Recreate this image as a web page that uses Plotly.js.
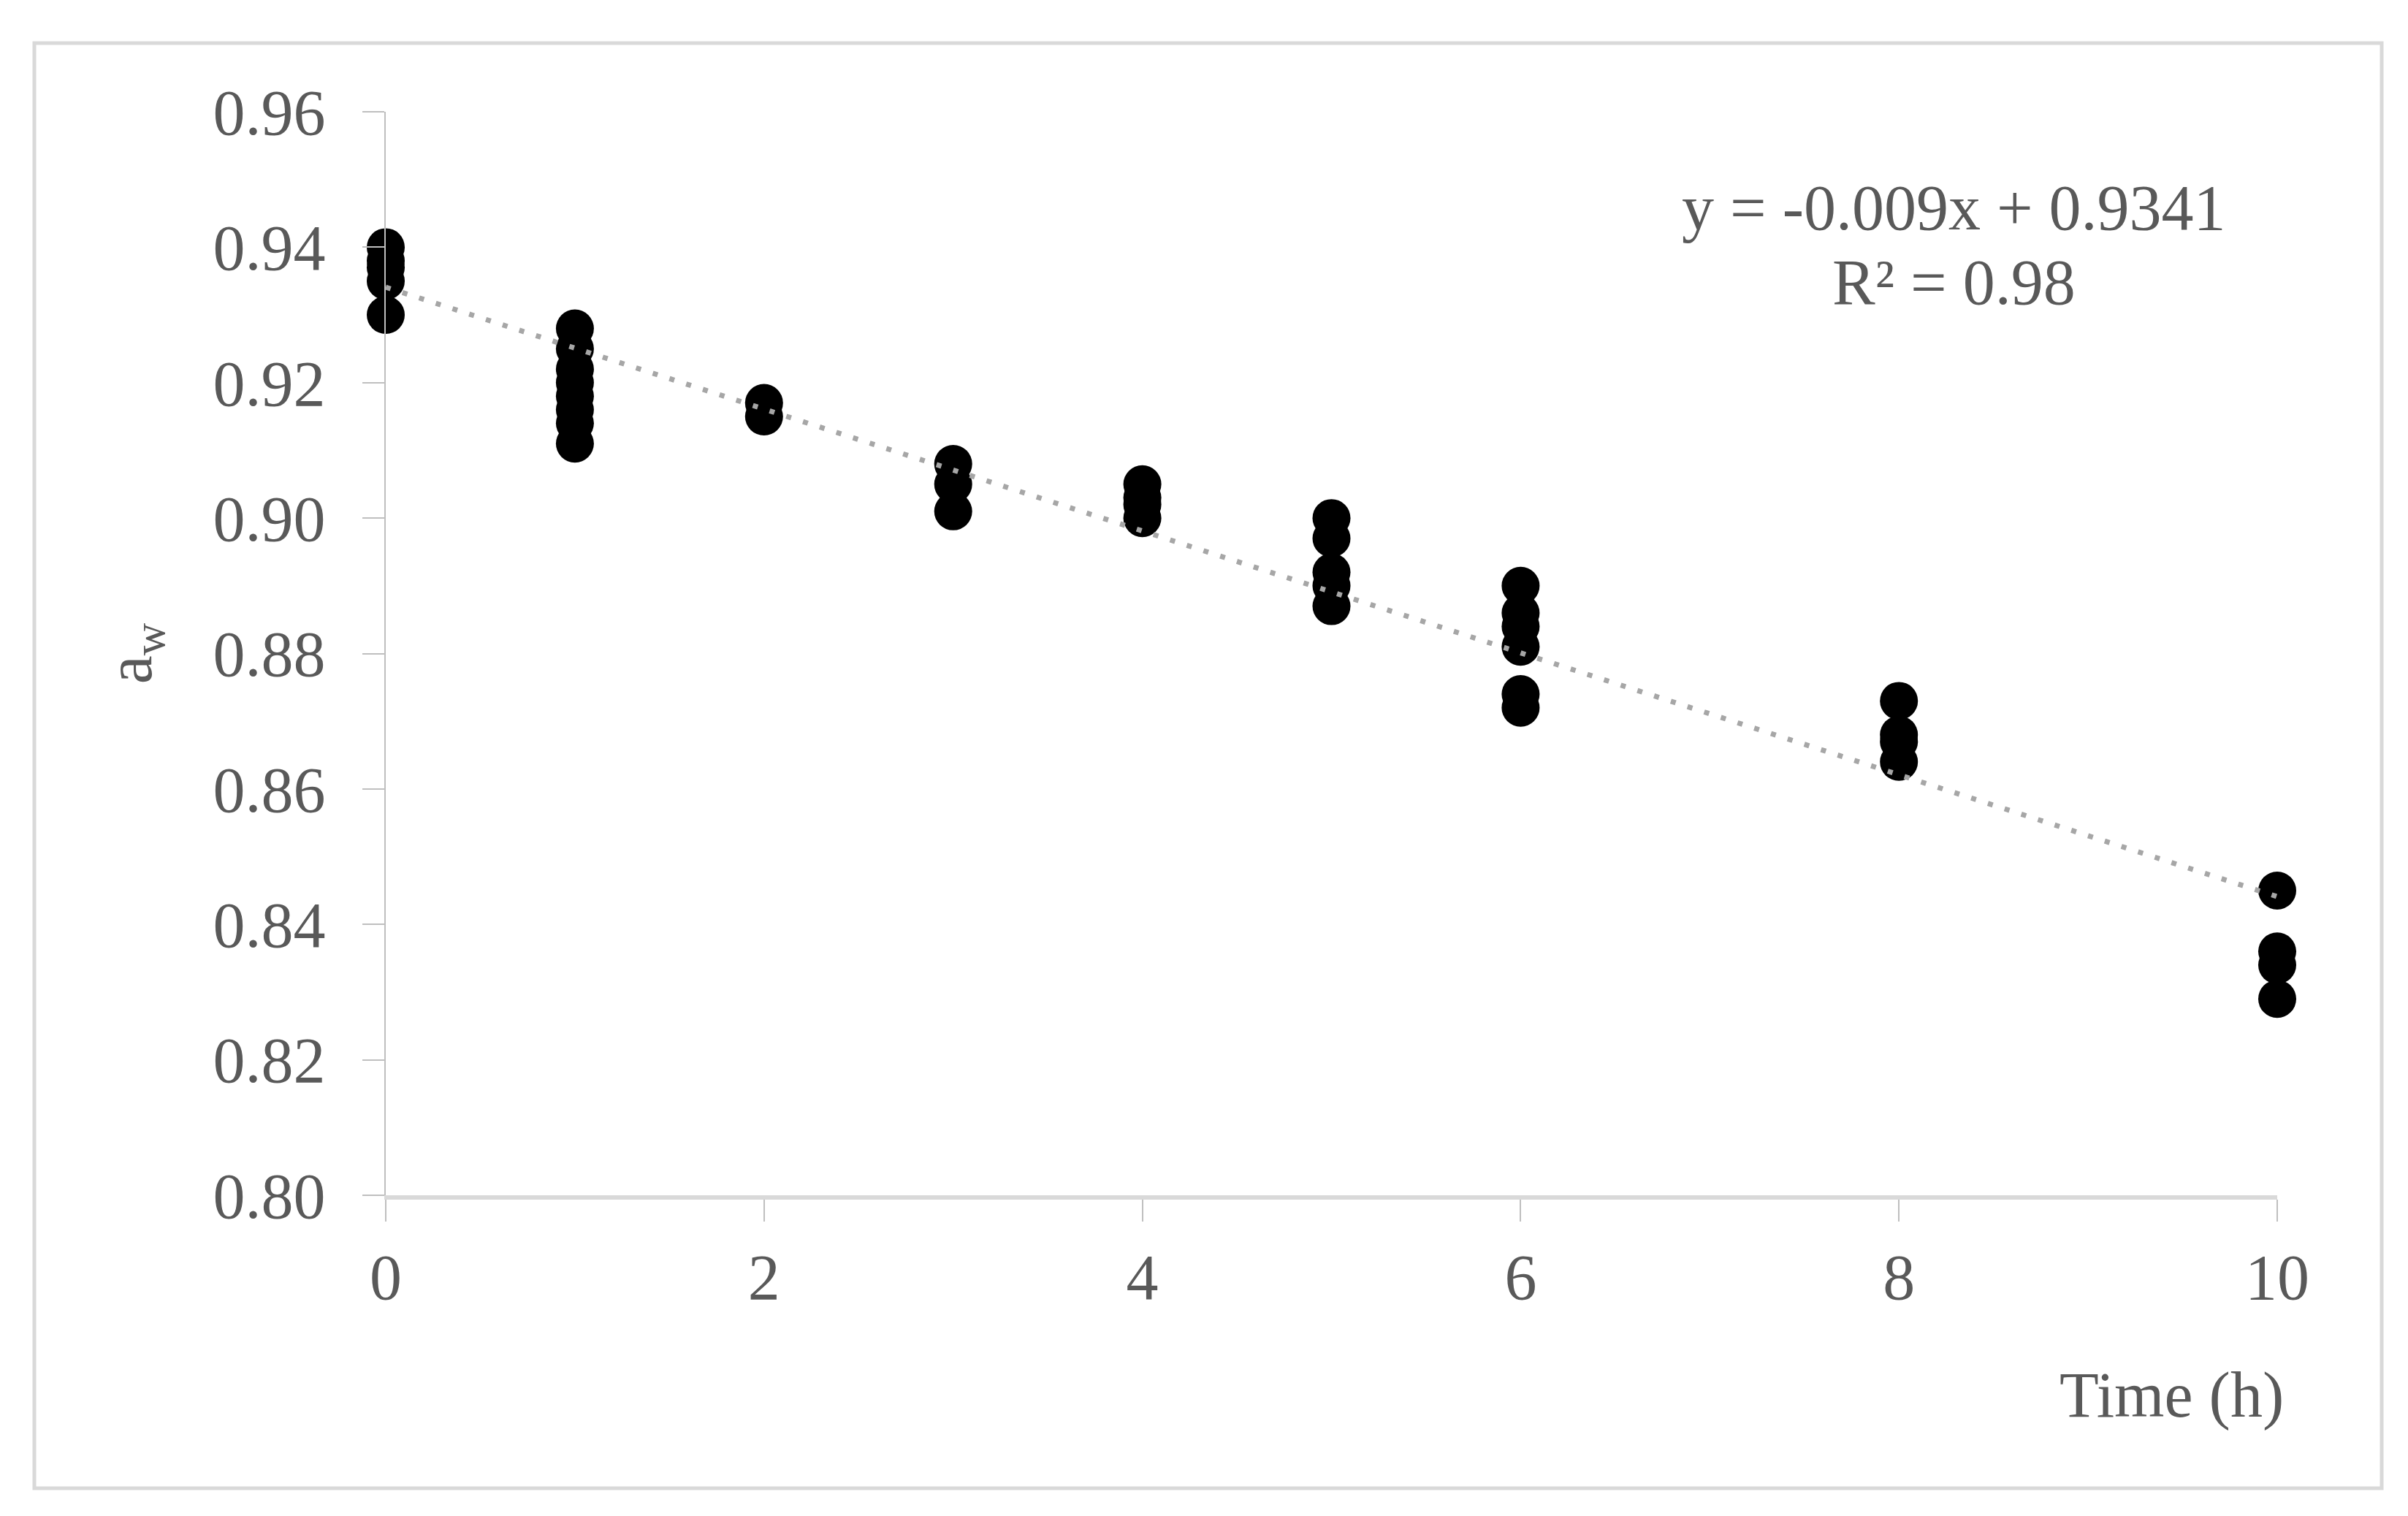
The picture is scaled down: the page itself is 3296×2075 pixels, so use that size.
<!DOCTYPE html>
<html>
<head>
<meta charset="utf-8">
<script src="https://cdn.plot.ly/plotly-3.0.1.min.js"></script>
<style>
  html, body { margin: 0; padding: 0; background: #ffffff; }
  #chart { width: 3296px; height: 2075px; }
</style>
</head>
<body>
<div id="chart"></div>
<script>
// Measured water activity (a_w) vs. drying time (h)
var timeH = [
  0, 0, 0, 0, 0,
  1, 1, 1, 1, 1, 1, 1, 1,
  2, 2,
  3, 3, 3,
  4, 4, 4, 4,
  5, 5, 5, 5, 5,
  6, 6, 6, 6, 6, 6,
  8, 8, 8, 8,
  10, 10, 10, 10
];
var aw = [
  0.940, 0.938, 0.937, 0.935, 0.930,
  0.928, 0.925, 0.922, 0.920, 0.918, 0.916, 0.914, 0.911,
  0.917, 0.915,
  0.908, 0.905, 0.901,
  0.905, 0.903, 0.902, 0.900,
  0.900, 0.897, 0.892, 0.890, 0.887,
  0.890, 0.886, 0.884, 0.881, 0.874, 0.872,
  0.873, 0.868, 0.867, 0.864,
  0.845, 0.836, 0.834, 0.829
];
// Linear trendline reported on the chart
var trendSlope = -0.009;
var trendIntercept = 0.9341;
var trendR2 = 0.98;
var trendX = [0, 10];

var xTicks = [0, 2, 4, 6, 8, 10];
var yTicks = [0.80, 0.82, 0.84, 0.86, 0.88, 0.90, 0.92, 0.94, 0.96];

var trendY = trendX.map(function (x) { return trendSlope * x + trendIntercept; });

var FONT = 'Liberation Serif, Times New Roman, serif';
var TXT = '#595959';

var traces = [
  {
    type: 'scatter', mode: 'markers',
    x: timeH, y: aw, cliponaxis: false,
    marker: { color: '#000000', size: 52, line: { width: 0 } },
    showlegend: false, hoverinfo: 'x+y'
  },
  {
    type: 'scatter', mode: 'lines',
    x: trendX, y: trendY, cliponaxis: false,
    line: { color: '#a6a6a6', width: 7, dash: '7px,17px' },
    showlegend: false, hoverinfo: 'skip'
  }
];

var layout = {
  width: 3296, height: 2075,
  paper_bgcolor: '#ffffff', plot_bgcolor: '#ffffff',
  margin: { l: 528, r: 179, t: 153, b: 439, pad: 0 },
  font: { family: FONT, color: TXT, size: 88 },
  showlegend: false,
  xaxis: {
    range: [0, 10], tickvals: xTicks, ticktext: xTicks.map(String),
    showgrid: false, zeroline: false,
    showline: true, linecolor: '#d9d9d9', linewidth: 6,
    ticks: 'outside', ticklen: 30, tickwidth: 2, tickcolor: '#bfbfbf',
    ticklabelstandoff: 0,
    tickfont: { family: FONT, size: 88, color: TXT }
  },
  yaxis: {
    range: [0.80, 0.96], tickvals: yTicks,
    ticktext: yTicks.map(function (v) { return v.toFixed(2); }),
    showgrid: false, zeroline: false,
    showline: true, linecolor: '#bfbfbf', linewidth: 2,
    ticks: 'outside', ticklen: 30, tickwidth: 2, tickcolor: '#bfbfbf',
    ticklabelstandoff: 33,
    tickfont: { family: FONT, size: 88, color: TXT },
    title: { text: 'a<sub>w</sub>', font: { family: FONT, size: 88, color: TXT }, standoff: 55 }
  },
  annotations: [
    {
      xref: 'paper', yref: 'paper',
      x: (3128 - 528) / 2589, y: (1636 - 1909) / 1483,
      xanchor: 'right', yanchor: 'middle',
      text: 'Time (h)', showarrow: false,
      font: { family: FONT, size: 88, color: TXT }
    },
    {
      xref: 'paper', yref: 'paper',
      x: (2674 - 528) / 2589, y: (1636 - 284) / 1483,
      xanchor: 'center', yanchor: 'middle',
      text: 'y = ' + trendSlope.toFixed(3) + 'x + ' + trendIntercept.toFixed(4),
      showarrow: false,
      font: { family: FONT, size: 88, color: TXT }
    },
    {
      xref: 'paper', yref: 'paper',
      x: (2674 - 528) / 2589, y: (1636 - 387) / 1483,
      xanchor: 'center', yanchor: 'middle',
      text: 'R² = ' + trendR2.toFixed(2),
      showarrow: false,
      font: { family: FONT, size: 88, color: TXT }
    }
  ],
  shapes: [
    {
      type: 'rect', xref: 'paper', yref: 'paper', layer: 'below',
      x0: (47 - 528) / 2589, x1: (3260 - 528) / 2589,
      y0: (1636 - 2037) / 1483, y1: (1636 - 59) / 1483,
      line: { color: '#d9d9d9', width: 5 }, fillcolor: 'rgba(0,0,0,0)'
    }
  ]
};

Plotly.newPlot('chart', traces, layout, { displayModeBar: false, staticPlot: true });
</script>
</body>
</html>
